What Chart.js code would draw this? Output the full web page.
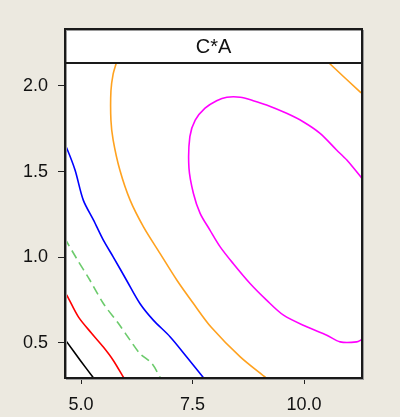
<!DOCTYPE html>
<html>
<head>
<meta charset="utf-8">
<script src="https://cdn.jsdelivr.net/npm/chart.js@4/dist/chart.umd.min.js"></script>
<style>
  html, body { margin: 0; padding: 0; background: #ECE9E0; }
  #wrap { width: 400px; height: 417px; position: relative; }
</style>
</head>
<body>
<div id="wrap"><canvas id="c" width="400" height="417"></canvas></div>
<script>
// ---- Data ----
const panelTitle = "C*A";
const xTicks = [5.0, 7.5, 10.0];
const yTicks = [0.5, 1.0, 1.5, 2.0];

const blackX = [4.64, 4.68, 4.98, 5.28];
const blackY = [0.52, 0.505, 0.398, 0.294];

const redX = [4.64, 4.68, 4.94, 5.24, 5.50, 5.72, 5.96];
const redY = [0.79, 0.778, 0.651, 0.554, 0.475, 0.398, 0.294];

const greenX = [4.64, 4.68, 4.90, 5.20, 5.50, 5.84, 6.10, 6.32, 6.59, 6.78];
const greenY = [1.11, 1.09, 0.992, 0.865, 0.729, 0.612, 0.515, 0.437, 0.378, 0.294];

const blueX = [4.64, 4.68, 4.865, 5.05, 5.28, 5.50, 5.72, 6.02, 6.32, 6.62, 7.00, 7.37, 7.75];
const blueY = [1.65, 1.636, 1.509, 1.333, 1.216, 1.099, 1.002, 0.865, 0.729, 0.632, 0.534, 0.417, 0.294];

const orangeX = [5.79, 5.72, 5.67, 5.67, 5.72, 5.87, 6.10, 6.40, 6.77, 7.15, 7.52, 7.92, 8.57, 9.15];
const orangeY = [2.134, 2.07, 1.97, 1.80, 1.684, 1.509, 1.333, 1.177, 1.022, 0.865, 0.729, 0.59, 0.417, 0.294];

const orange2X = [10.56, 11.28];
const orange2Y = [2.134, 1.959];

const magentaX = [11.30, 10.96, 10.73, 10.36, 9.98, 9.61, 9.16, 8.86, 8.57, 8.27, 8.04, 7.78, 7.56, 7.44, 7.42, 7.52, 7.67, 7.89, 8.12, 8.41, 8.79, 9.16, 9.54, 10.06, 10.51, 10.81, 11.18, 11.30];
const magentaY = [1.46, 1.567, 1.626, 1.723, 1.791, 1.84, 1.889, 1.914, 1.934, 1.934, 1.914, 1.87, 1.80, 1.704, 1.519, 1.372, 1.256, 1.158, 1.06, 0.963, 0.846, 0.749, 0.661, 0.593, 0.544, 0.505, 0.505, 0.519];

const xMin = 4.64, xMax = 11.30, yMin = 0.294, yMax = 2.134;

function pts(xs, ys) { return xs.map((x, i) => ({ x: x, y: ys[i] })); }
function line(xs, ys, color, dash) {
  return {
    data: pts(xs, ys),
    showLine: true,
    borderColor: color,
    borderWidth: 1.6,
    borderDash: dash || [],
    pointRadius: 0,
    tension: 0.3,
    fill: false
  };
}

const BG = '#ECE9E0';
const frame = {
  id: 'frame',
  beforeDraw(chart) {
    const ctx = chart.ctx, a = chart.chartArea;
    ctx.save();
    ctx.fillStyle = BG;
    ctx.fillRect(0, 0, chart.width, chart.height);
    ctx.fillStyle = '#ffffff';
    ctx.fillRect(a.left, 29, a.right - a.left, a.bottom - 29);
    ctx.restore();
  },
  afterDraw(chart) {
    const ctx = chart.ctx, a = chart.chartArea;
    ctx.save();
    ctx.strokeStyle = '#9a9a9a';
    ctx.lineWidth = 1;
    ctx.strokeRect(a.left + 1.5, 30.5, a.right - a.left, a.bottom - 29);
    ctx.strokeStyle = '#1a1a1a';
    ctx.lineWidth = 2;
    ctx.strokeRect(a.left, 29, a.right - a.left, a.bottom - 29);
    ctx.beginPath();
    ctx.moveTo(a.left, a.top);
    ctx.lineTo(a.right, a.top);
    ctx.stroke();
    ctx.fillStyle = '#111';
    ctx.font = '20px "Liberation Sans", Arial, sans-serif';
    ctx.textAlign = 'center';
    ctx.textBaseline = 'middle';
    ctx.fillText(panelTitle, (a.left + a.right) / 2, 47);
    ctx.restore();
  }
};

new Chart(document.getElementById('c'), {
  type: 'scatter',
  data: {
    datasets: [
      line(blackX, blackY, '#000000'),
      line(redX, redY, '#FF0000'),
      line(greenX, greenY, '#6CCB6C', [9, 5]),
      line(blueX, blueY, '#0000FF'),
      line(orangeX, orangeY, '#FFA21F'),
      line(orange2X, orange2Y, '#FFA21F'),
      line(magentaX, magentaY, '#FF00FF')
    ]
  },
  options: {
    responsive: false,
    animation: false,
    layout: { padding: { left: 0, top: 63, right: 38, bottom: 0 } },
    plugins: { legend: { display: false }, tooltip: { enabled: false }, title: { display: false } },
    scales: {
      x: {
        type: 'linear',
        min: xMin, max: xMax,
        afterBuildTicks(s) { s.ticks = xTicks.map(v => ({ value: v })); },
        afterFit(s) { s.height = 39; },
        grid: { drawOnChartArea: false, drawTicks: true, tickLength: 6, color: '#222', lineWidth: 1 },
        border: { display: false },
        ticks: {
          color: '#111', padding: 10,
          font: { family: '"Liberation Sans", Arial, sans-serif', size: 18 },
          callback: v => Number(v).toFixed(1)
        }
      },
      y: {
        type: 'linear',
        min: yMin, max: yMax,
        afterBuildTicks(s) { s.ticks = yTicks.map(v => ({ value: v })); },
        afterFit(s) { s.width = 65; },
        grid: { drawOnChartArea: false, drawTicks: true, tickLength: 7, color: '#222', lineWidth: 1 },
        border: { display: false },
        ticks: {
          color: '#111', padding: 10,
          font: { family: '"Liberation Sans", Arial, sans-serif', size: 18 },
          callback: v => Number(v).toFixed(1)
        }
      }
    }
  },
  plugins: [frame]
});
</script>
</body>
</html>
